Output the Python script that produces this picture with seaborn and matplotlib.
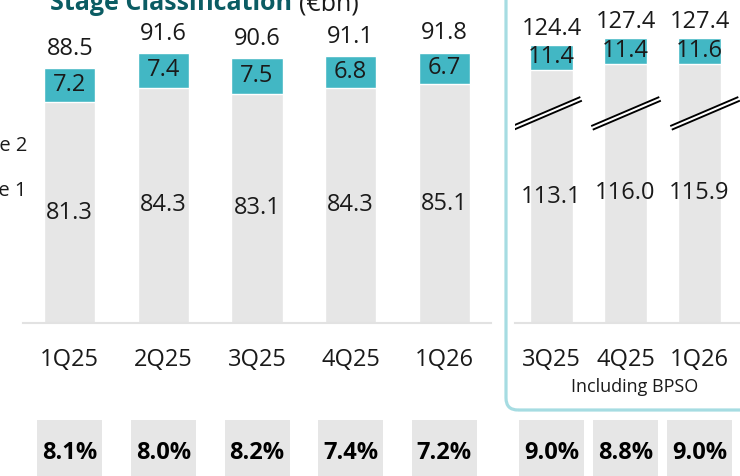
import numpy as np
import pandas as pd
import matplotlib
matplotlib.use("Agg")
import matplotlib.pyplot as plt
import matplotlib.transforms as mtransforms
from matplotlib.patches import FancyBboxPatch, Rectangle
import seaborn as sns

# Data
quarters = ["1Q25", "2Q25", "3Q25", "4Q25", "1Q26"]
stage1 = [81.3, 84.3, 83.1, 84.3, 85.1]
stage2 = [7.2, 7.4, 7.5, 6.8, 6.7]
totals = [88.5, 91.6, 90.6, 91.1, 91.8]
ratio = ["8.1%", "8.0%", "8.2%", "7.4%", "7.2%"]

bpso_quarters = ["3Q25", "4Q25", "1Q26"]
bpso_stage1 = [113.1, 116.0, 115.9]
bpso_stage2 = [11.4, 11.4, 11.6]
bpso_totals = [124.4, 127.4, 127.4]
bpso_ratio = ["9.0%", "8.8%", "9.0%"]

TEAL = "#42B7C4"
GREY = "#E6E6E6"
TITLE = "#0B5C63"
BOX = "#A6DCE2"
INK = "#1A1A1A"

sns.set_theme(style="white")
plt.rcParams['font.family'] = ['Open Sans', 'DejaVu Sans']

W, H = 740, 476
fig = plt.figure(figsize=(W / 100, H / 100), dpi=100)


def fx(px):
    return px / W


def fy(py):
    return 1 - py / H


# left panel (axis does not start at zero on the slide)
ax = fig.add_axes([fx(23), fy(323), 468 / W, 323 / H])
# right panel, including BPSO
ax2 = fig.add_axes([fx(514.5), fy(323), 225.7 / W, 323 / H])

df = pd.DataFrame({"q": quarters, "s1": stage1, "tot": totals})
df2 = pd.DataFrame({"q": bpso_quarters, "s1": bpso_stage1, "tot": bpso_totals})

sns.barplot(data=df, x="q", y="tot", color=TEAL, saturation=1, width=0.545, ax=ax)
sns.barplot(data=df, x="q", y="s1", color=GREY, saturation=1, width=0.545, ax=ax)
sns.barplot(data=df2, x="q", y="tot", color=TEAL, saturation=1, width=0.58, ax=ax2)
sns.barplot(data=df2, x="q", y="s1", color=GREY, saturation=1, width=0.58, ax=ax2)

ax.set_xlim(-0.5, 4.5)
ax.set_ylim(34.5, 34.5 + 323 / 4.72)
ax2.set_xlim(-0.5, 2.55)
ax2.set_ylim(0, 323 / 2.235)

for a in (ax, ax2):
    a.set_xticks([])
    a.set_yticks([])
    a.set_xlabel("")
    a.set_ylabel("")
    a.patch.set_alpha(0)
    for s in ["top", "left", "right"]:
        a.spines[s].set_visible(False)
    a.spines["bottom"].set_color("#E2E2E2")
    a.spines["bottom"].set_linewidth(1.5)

# value labels
lo = ax.get_ylim()[0]
for i in range(len(quarters)):
    ax.text(i, (lo + stage1[i]) / 2, f"{stage1[i]:.1f}", ha="center", va="center",
            size=17, color=INK)
    ax.text(i, stage1[i] + stage2[i] / 2, f"{stage2[i]:.1f}", ha="center", va="center",
            size=17, color=INK)
    ax.annotate(f"{totals[i]:.1f}", (i, totals[i]), xytext=(0, 9.5), textcoords="offset points",
                ha="center", va="baseline", size=17, color=INK)

for i in range(len(bpso_quarters)):
    ax2.text(i, bpso_stage1[i] / 2, f"{bpso_stage1[i]:.1f}", ha="center", va="center",
             size=17, color=INK)
    ax2.text(i, bpso_stage1[i] + bpso_stage2[i] / 2, f"{bpso_stage2[i]:.1f}", ha="center",
             va="center", size=17, color=INK)
    ax2.annotate(f"{bpso_totals[i]:.1f}", (i, bpso_totals[i]), xytext=(0, 7.5),
                 textcoords="offset points", ha="center", va="baseline", size=17, color=INK)

# axis break marks on the BPSO bars
brk_start = [-0.52, 0.547, 1.615]
for x0 in brk_start:
    ax2.plot([x0, x0 + 0.92], [87.3, 100.3], color="black", lw=4.2, solid_capstyle="butt")
    ax2.plot([x0 - 0.02, x0 + 0.94], [87.3 - 0.28, 100.3 + 0.28], color="white", lw=1.5,
             solid_capstyle="butt")

# category labels and ratio boxes below the bars
for a, cats, rat, bw in ((ax, quarters, ratio, 65 / 93.6), (ax2, bpso_quarters, bpso_ratio, 65 / 74)):
    tr = mtransforms.blended_transform_factory(a.transData, fig.transFigure)
    for i, c in enumerate(cats):
        a.text(i, fy(366), c, transform=tr, ha="center", va="baseline", size=17,
               color=INK, clip_on=False)
        a.add_patch(Rectangle((i - bw / 2, fy(490)), bw, (490 - 420) / H, transform=tr,
                              facecolor=GREY, edgecolor="none", clip_on=False))
        a.text(i, fy(459), rat[i], transform=tr, ha="center", va="baseline", size=17,
               weight="bold", color="black", clip_on=False)

tr2 = mtransforms.blended_transform_factory(ax2.transData, fig.transFigure)
ax2.text(1.13, fy(392), "Including BPSO", transform=tr2, ha="center", va="baseline",
         size=13, color=INK, clip_on=False)

# rounded panel around the BPSO part
fig.patches.append(FancyBboxPatch((506, H - 410), 300, 500, boxstyle="round,pad=0,rounding_size=12",
                                  transform=mtransforms.IdentityTransform(), facecolor="none",
                                  edgecolor=BOX, lw=2.3, figure=fig))

# legend text cut at the left edge
fig.text(fx(27), fy(151.5), "Stage 2", ha="right", va="baseline", size=14.5, color=INK)
fig.text(fx(27), fy(196), "Stage 1", ha="right", va="baseline", size=14.5, color=INK)

# title, cut at the top
t = fig.text(fx(50), fy(10.5), "Stage Classification", ha="left", va="baseline", size=18,
             weight="bold", color=TITLE)
fig.canvas.draw()
bb = t.get_window_extent()
fig.text((bb.x1 + 7) / W, fy(10.5), "(€bn)", ha="left", va="baseline", size=18, color=INK)

fig.savefig("out.png", dpi=100)
